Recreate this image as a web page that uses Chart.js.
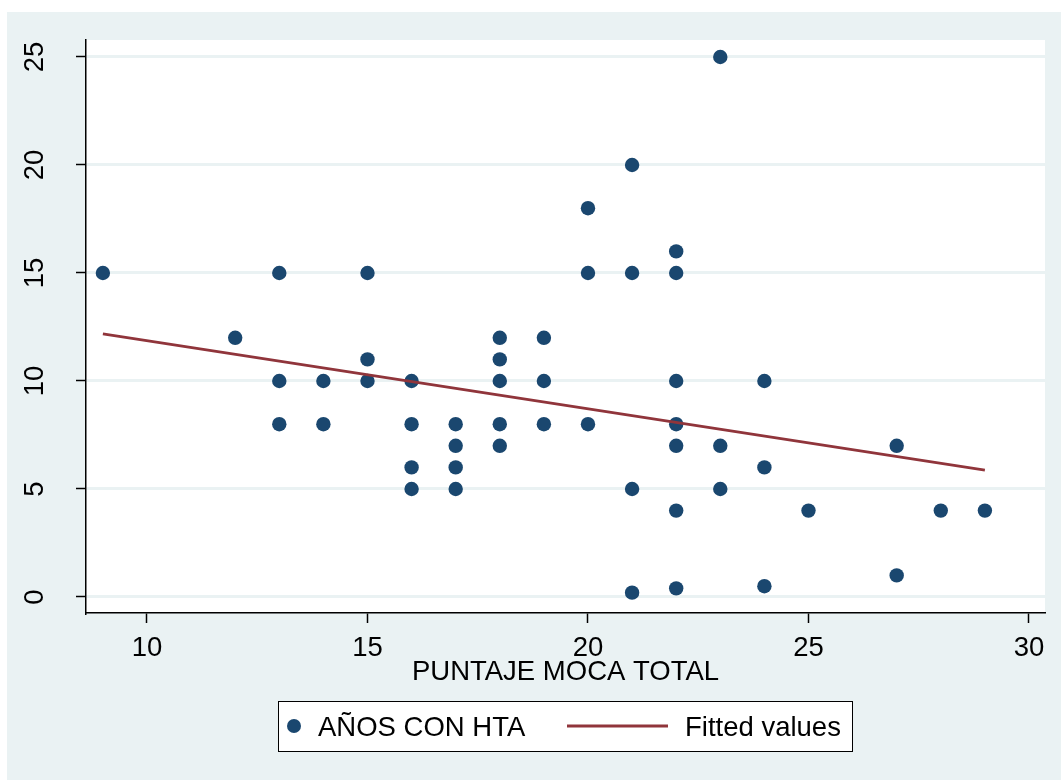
<!DOCTYPE html>
<html>
<head>
<meta charset="utf-8">
<script src="https://cdn.jsdelivr.net/npm/chart.js@4.4.0/dist/chart.umd.min.js"></script>
<style>
  body { margin: 0; background: #ffffff; }
  canvas { display: block; }
</style>
</head>
<body>
<canvas id="chartjs-0" width="1061" height="781"></canvas>
<script>
"use strict";

// puntaje MoCA (x) y años con HTA (y)
let mocaX = [9, 12, 13, 13, 13, 14, 14, 15, 15, 15, 16, 16, 16, 16, 17, 17, 17, 17,
             18, 18, 18, 18, 18, 19, 19, 19, 20, 20, 20, 21, 21, 21, 21,
             22, 22, 22, 22, 22, 22, 22, 23, 23, 23, 24, 24, 24, 25, 27, 27, 28, 29];
let htaY  = [15, 12, 15, 10, 8, 10, 8, 15, 11, 10, 10, 8, 6, 5, 8, 7, 6, 5,
             12, 11, 10, 8, 7, 12, 10, 8, 18, 15, 8, 20, 15, 5, 0.2,
             16, 15, 10, 8, 7, 4, 0.4, 25, 7, 5, 10, 6, 0.5, 4, 7, 1, 4, 4];

// recta ajustada (extremos)
let fitX = [9, 29];
let fitY = [12.18, 5.87];

let xTicks = [10, 15, 20, 25, 30];
let yTicks = [0, 5, 10, 15, 20, 25];

let scatterLabel = "AÑOS CON HTA";
let fitLabel = "Fitted values";
let xTitle = "PUNTAJE MOCA TOTAL";

let navy = "#1a476f";
let maroon = "#90353b";
let bgGray = "#eaf2f3";
let fontFam = "'Liberation Sans', Arial, sans-serif";
let fontSize = 27.5;

let scatterPts = [];
for (let i = 0; i < mocaX.length; i++) {
    scatterPts.push({ x: mocaX[i], y: htaY[i] });
}
let fitPts = [];
for (let i = 0; i < fitX.length; i++) {
    fitPts.push({ x: fitX[i], y: fitY[i] });
}

// fondo gris + area blanca del grafico
const bgPlugin = {
    id: "bgPlugin",
    beforeDraw(chart) {
        const c = chart.ctx;
        const a = chart.chartArea;
        c.save();
        c.fillStyle = "#ffffff";
        c.fillRect(0, 0, chart.width, chart.height);
        c.fillStyle = bgGray;
        c.fillRect(7, 12, chart.width - 7, 768);
        c.fillStyle = "#ffffff";
        c.fillRect(a.left, a.top, a.right - a.left, a.bottom - a.top);
        c.restore();
    }
};

// etiquetas del eje Y giradas + leyenda con recuadro
const labelsPlugin = {
    id: "labelsPlugin",
    afterDraw(chart) {
        const c = chart.ctx;
        const ys = chart.scales.y;
        c.save();
        c.fillStyle = "#000";
        c.font = fontSize + "px " + fontFam;
        c.textAlign = "center";
        c.textBaseline = "alphabetic";
        yTicks.forEach(function (v) {
            const py = ys.getPixelForValue(v);
            c.save();
            c.translate(43, py);
            c.rotate(-Math.PI / 2);
            c.fillText(String(v), 0, 0);
            c.restore();
        });

        // leyenda
        const ds = chart.data.datasets;
        c.fillStyle = "#ffffff";
        c.fillRect(278, 701, 575, 51);
        c.strokeStyle = "#000";
        c.lineWidth = 1;
        c.strokeRect(278.5, 701.5, 574, 50);

        c.fillStyle = ds[1].backgroundColor;
        c.beginPath();
        c.arc(294, 726, 7, 0, Math.PI * 2);
        c.fill();

        c.strokeStyle = ds[0].borderColor;
        c.lineWidth = 2.8;
        c.beginPath();
        c.moveTo(567, 726);
        c.lineTo(668, 726);
        c.stroke();

        c.fillStyle = "#000";
        c.textAlign = "left";
        c.fillText(ds[1].label, 318, 736);
        c.fillText(ds[0].label, 685, 736);
        c.restore();
    }
};

var ctx = document.getElementById("chartjs-0");
let myChart = new Chart(ctx, {
    "type": "scatter",
    "data": {
        "datasets": [{
            label: fitLabel,
            data: fitPts,
            showLine: true,
            borderColor: maroon,
            borderWidth: 2.8,
            pointRadius: 0,
            fill: false,
            order: 0
        }, {
            label: scatterLabel,
            data: scatterPts,
            backgroundColor: navy,
            borderColor: navy,
            pointRadius: 7.2,
            pointBorderWidth: 0,
            pointHoverRadius: 7.2,
            order: 1
        }]
    },
    "options": {
        responsive: false,
        animation: false,
        events: [],
        layout: { padding: { top: 40, right: 16, bottom: 92, left: 0 } },
        plugins: {
            legend: { display: false },
            tooltip: { enabled: false }
        },
        scales: {
            x: {
                type: "linear",
                min: 8.617,
                max: 30.363,
                afterFit: function (s) { s.height = 76; },
                afterBuildTicks: function (s) { s.ticks = xTicks.map(v => ({ value: v })); },
                border: { display: true, color: "#000", width: 1.5 },
                grid: {
                    drawOnChartArea: false,
                    drawTicks: true,
                    tickLength: 10,
                    tickColor: "#000",
                    tickWidth: 1.5
                },
                ticks: {
                    color: "#000",
                    padding: 9,
                    maxRotation: 0,
                    font: { family: fontFam, size: fontSize }
                },
                title: {
                    display: true,
                    text: xTitle,
                    color: "#000",
                    padding: 0,
                    font: { family: fontFam, size: fontSize }
                }
            },
            y: {
                type: "linear",
                min: -0.741,
                max: 25.787,
                afterFit: function (s) { s.width = 86; },
                afterBuildTicks: function (s) { s.ticks = yTicks.map(v => ({ value: v })); },
                border: { display: true, color: "#000", width: 1.5 },
                grid: {
                    color: bgGray,
                    lineWidth: 3,
                    drawTicks: true,
                    tickLength: 10,
                    tickColor: "#000",
                    tickWidth: 1.5
                },
                ticks: { display: false }
            }
        }
    },
    plugins: [bgPlugin, labelsPlugin]
});
</script>
</body>
</html>
